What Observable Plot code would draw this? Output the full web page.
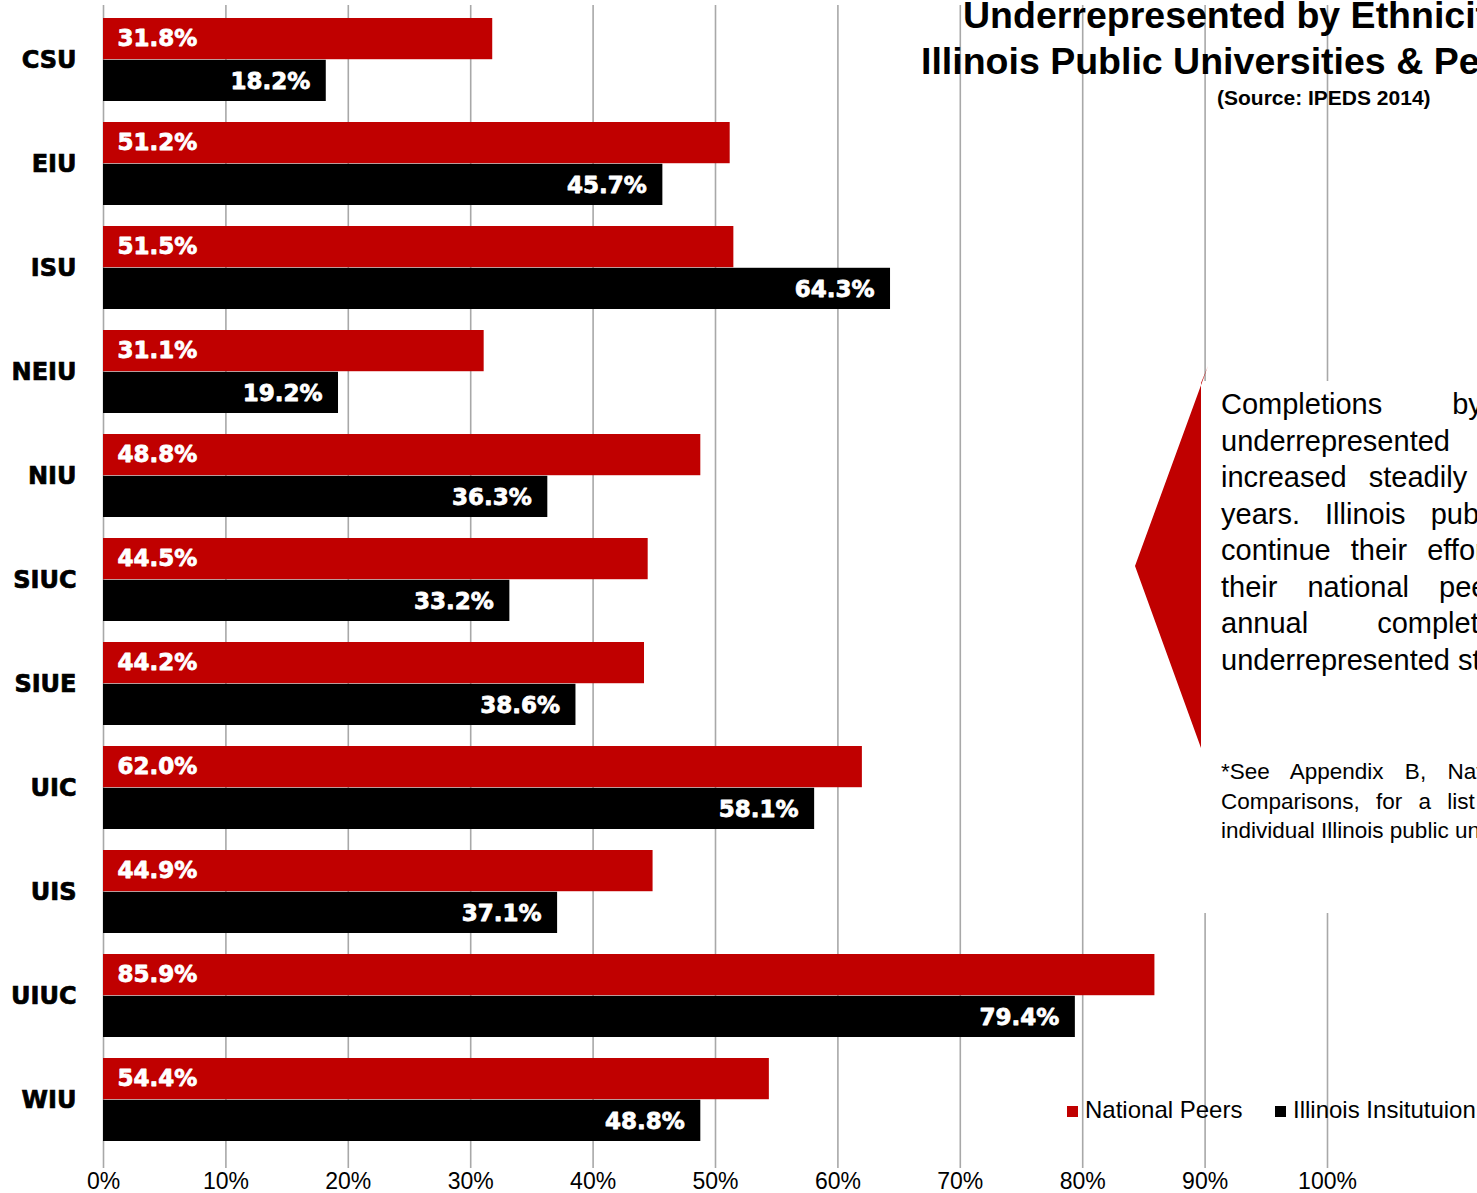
<!DOCTYPE html>
<html>
<head>
<meta charset="utf-8">
<script src="https://cdn.jsdelivr.net/npm/d3@7"></script>
<script src="https://cdn.jsdelivr.net/npm/@observablehq/plot@0.6"></script>
<style>
  html, body { margin: 0; padding: 0; background: #fff; overflow: hidden; }
  #wrap { position: relative; width: 1477px; height: 1193px; overflow: hidden; font-family: "Liberation Sans", Arial, sans-serif; }
  #chart svg { display: block; }
  #chart g[aria-label^="y-axis"] text { font-family: "DejaVu Sans", sans-serif; font-weight: bold; font-size: 24px; fill: #000; stroke: #000; stroke-width: 0.7px; }
  #chart g[aria-label^="x-axis"] text { font-family: "Liberation Sans", Arial, sans-serif; font-size: 23px; fill: #000; }
  .abs { position: absolute; white-space: nowrap; color: #000; }
  .title { font-weight: bold; font-size: 37.5px; line-height: 46px; }
  .src { font-weight: bold; font-size: 21px; line-height: 24px; }
  .body { font-size: 29px; line-height: 36.5px; height: 36.5px; }
  .foot { font-size: 22.5px; line-height: 29.6px; height: 29.6px; }
  .leg { font-size: 24px; line-height: 28px; }
  .sw { display: inline-block; width: 11px; height: 11px; margin-right: 7px; vertical-align: 1px; }
</style>
</head>
<body>
<div id="wrap">
  <div id="chart"></div>
</div>
<script>
const universities = ["CSU", "EIU", "ISU", "NEIU", "NIU", "SIUC", "SIUE", "UIC", "UIS", "UIUC", "WIU"];
const nationalPeers = [31.8, 51.2, 51.5, 31.1, 48.8, 44.5, 44.2, 62.0, 44.9, 85.9, 54.4];
const illinoisInst  = [18.2, 45.7, 64.3, 19.2, 36.3, 33.2, 38.6, 58.1, 37.1, 79.4, 48.8];
const xTicks = [0, 10, 20, 30, 40, 50, 60, 70, 80, 90, 100];
const seriesNames = ["National Peers", "Illinois Insitutuion"];
const seriesColors = ["#C00000", "#000000"];

const data = universities.map((u, i) => ({uni: u, peer: nationalPeers[i], ill: illinoisInst[i]}));

const W = 1477, H = 1193, mTop = 5, mBottom = 25, insBottom = 14;
const padIn = 0.2, padOut = 0.1;
const step = (H - mBottom - insBottom - mTop) / (universities.length - padIn + 2 * padOut);
const bw = step * (1 - padIn);
const fmt = v => v.toFixed(1) + "%";
const labelFont = {fill: "white", stroke: "white", strokeWidth: 0.8, fontWeight: "bold", fontSize: 23, fontFamily: "DejaVu Sans, sans-serif"};

const chart = Plot.plot({
  width: W, height: H,
  marginLeft: 103, marginRight: 150, marginTop: mTop, marginBottom: mBottom,
  style: {fontFamily: "Liberation Sans, Arial, sans-serif", fontSize: "23px", background: "transparent"},
  x: {domain: [0, 100], ticks: xTicks, tickFormat: d => d + "%", tickSize: 0, tickPadding: 4, label: null},
  y: {domain: universities, paddingInner: padIn, paddingOuter: padOut, insetBottom: insBottom, tickSize: 0, tickPadding: 27, label: null},
  marks: [
    Plot.ruleX(xTicks, {stroke: "#a8a8a8", strokeWidth: 1.6}),
    Plot.barX(data, {y: "uni", x: "peer", fill: seriesColors[0], insetBottom: bw / 2}),
    Plot.barX(data, {y: "uni", x: "ill", fill: seriesColors[1], insetTop: bw / 2}),
    Plot.text(data, {y: "uni", x: () => 0, text: d => fmt(d.peer), dx: 14, dy: -bw / 4, textAnchor: "start", ...labelFont}),
    Plot.text(data, {y: "uni", x: "ill", text: d => fmt(d.ill), dx: -16, dy: bw / 4 + 1, textAnchor: "end", ...labelFont})
  ]
});
document.getElementById("chart").appendChild(chart);

const wrap = document.getElementById("wrap");
function add(html, cls, left, top, extra) {
  const d = document.createElement("div");
  d.className = "abs " + cls;
  d.style.left = left + "px";
  d.style.top = top + "px";
  if (extra) Object.assign(d.style, extra);
  d.innerHTML = html;
  wrap.appendChild(d);
  return d;
}

// Title
add("Underrepresented by Ethnicity", "title", 963, -8);
add("Illinois Public Universities &amp; Peers", "title", 921, 38);
add("(Source: IPEDS 2014)", "src", 1217, 86);

// Callout: red arrow + white text box
const ns = "http://www.w3.org/2000/svg";
const sv = document.createElementNS(ns, "svg");
sv.setAttribute("width", W); sv.setAttribute("height", H);
sv.style.position = "absolute"; sv.style.left = "0"; sv.style.top = "0";
const box = document.createElementNS(ns, "rect");
box.setAttribute("x", 1201); box.setAttribute("y", 381); box.setAttribute("width", 300); box.setAttribute("height", 532);
box.setAttribute("fill", "#fff");
sv.appendChild(box);
const poly = document.createElementNS(ns, "polygon");
poly.setAttribute("points", "1208,366 1135,566 1201,748 1201,383");
poly.setAttribute("fill", "#C00000");
sv.appendChild(poly);
wrap.appendChild(sv);

const bodyLines = [
  ["Completions by students of", 62],
  ["underrepresented students have", 20],
  ["increased steadily over the past", 14],
  ["years. Illinois public universities", 17],
  ["continue their efforts to close the gap with", 12],
  ["their national peers* in", 22],
  ["annual completions of", 61],
  ["underrepresented students.", 0]
];
bodyLines.forEach(([t, ws], i) => add(t, "body", 1221, 386 + i * 36.5, {wordSpacing: ws + "px"}));

const footLines = [
  ["*See Appendix B, National Peer", 15],
  ["Comparisons, for a list of peers for", 10],
  ["individual Illinois public universities.", 0]
];
footLines.forEach(([t, ws], i) => add(t, "foot", 1221, 757 + i * 29.6, {wordSpacing: ws + "px"}));

// Legend
add('<span class="sw" style="background:' + seriesColors[0] + '"></span>' + seriesNames[0], "leg", 1067, 1096);
add('<span class="sw" style="background:' + seriesColors[1] + '"></span>' + seriesNames[1], "leg", 1275, 1096);
</script>
</body>
</html>
